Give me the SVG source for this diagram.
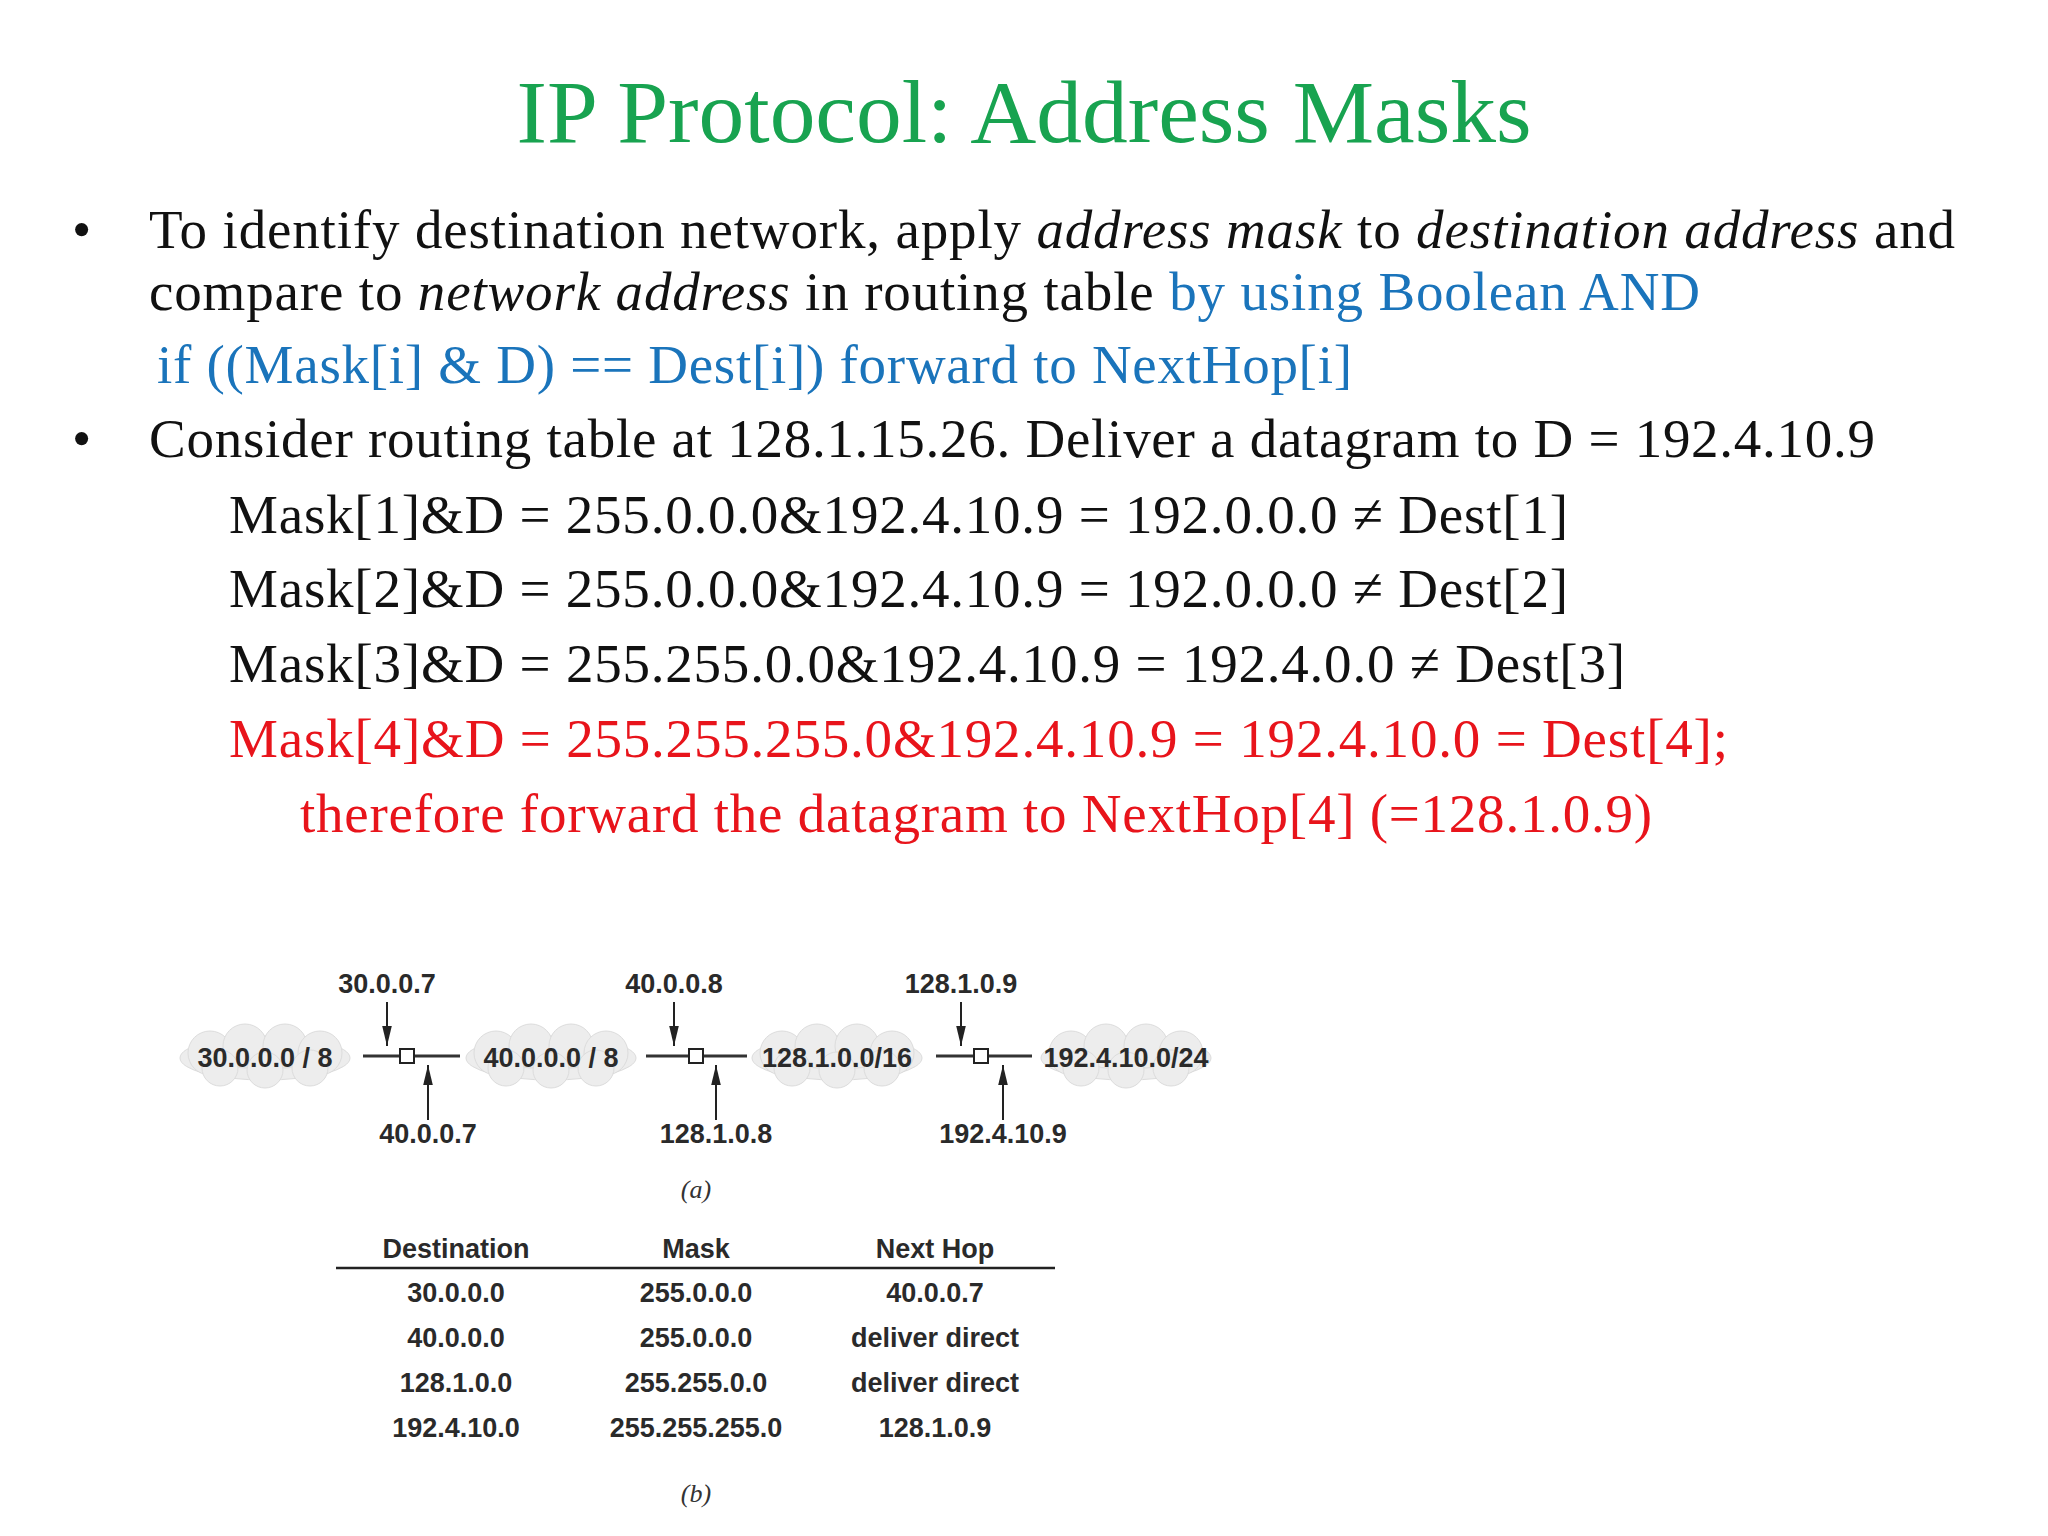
<svg xmlns="http://www.w3.org/2000/svg" width="2048" height="1536" viewBox="0 0 2048 1536">
<style>
.t{font-family:"Liberation Serif","Times New Roman",serif;font-size:55px;fill:#111}
.b{fill:#1a74bb}.r{fill:#e8141b}
.d{font-family:"Liberation Sans",Arial,sans-serif;font-size:27px;font-weight:bold;fill:#2a2a2a;text-anchor:middle}
.ln{stroke:#333;stroke-width:3;fill:none}
.cl{fill:#ededed;stroke:#dcdcdc;stroke-width:1}
</style>
<defs>
<marker id="a" viewBox="0 0 10 10" refX="10" refY="5" markerWidth="20" markerHeight="12" orient="auto" markerUnits="userSpaceOnUse" preserveAspectRatio="none"><path d="M0,1 L10,5 L0,9 z" fill="#222"/></marker>
<g id="cloud"><ellipse cx="0" cy="0" rx="85" ry="22"/><circle cx="-55" cy="-5" r="22"/><circle cx="-20" cy="-12" r="22"/><circle cx="20" cy="-12" r="22"/><circle cx="55" cy="-5" r="22"/><circle cx="-45" cy="10" r="18"/><circle cx="0" cy="12" r="18"/><circle cx="45" cy="10" r="18"/></g>
</defs>
<rect width="2048" height="1536" fill="#fff"/>
<text x="1024" y="142" text-anchor="middle" font-family="Liberation Serif,serif" font-size="88" fill="#18a350" textLength="1015" lengthAdjust="spacingAndGlyphs">IP Protocol: Address Masks</text>
<g id="text">
<text class="t" x="72" y="248">•</text>
<text class="t" x="149" y="248" textLength="1806">To identify destination network, apply <tspan font-style="italic">address mask</tspan> to <tspan font-style="italic">destination address</tspan> and</text>
<text class="t" x="149" y="310" textLength="1551">compare to <tspan font-style="italic">network address</tspan> in routing table <tspan class="b">by using Boolean AND</tspan></text>
<text class="t b" x="157" y="383" textLength="1195">if ((Mask[i] &amp; D) == Dest[i]) forward to NextHop[i]</text>
<text class="t" x="72" y="457">•</text>
<text class="t" x="149" y="457" textLength="1726">Consider routing table at 128.1.15.26. Deliver a datagram to D = 192.4.10.9</text>
<text class="t" x="229" y="533" textLength="1339">Mask[1]&amp;D = 255.0.0.0&amp;192.4.10.9 = 192.0.0.0 ≠ Dest[1]</text>
<text class="t" x="229" y="607" textLength="1339">Mask[2]&amp;D = 255.0.0.0&amp;192.4.10.9 = 192.0.0.0 ≠ Dest[2]</text>
<text class="t" x="229" y="682" textLength="1396">Mask[3]&amp;D = 255.255.0.0&amp;192.4.10.9 = 192.4.0.0 ≠ Dest[3]</text>
<text class="t r" x="229" y="757" textLength="1499">Mask[4]&amp;D = 255.255.255.0&amp;192.4.10.9 = 192.4.10.0 = Dest[4];</text>
<text class="t r" x="300" y="832" textLength="1352">therefore forward the datagram to NextHop[4] (=128.1.0.9)</text>
</g>
<g id="clouds" class="cl">
<use href="#cloud" x="265" y="1058"/><use href="#cloud" x="551" y="1058"/><use href="#cloud" x="837" y="1058"/><use href="#cloud" x="1126" y="1058"/>
</g>
<g id="nets">
<text class="d" x="265" y="1067">30.0.0.0 / 8</text>
<text class="d" x="551" y="1067">40.0.0.0 / 8</text>
<text class="d" x="837" y="1067">128.1.0.0/16</text>
<text class="d" x="1126" y="1067">192.4.10.0/24</text>
</g>
<g id="connectors">
<line class="ln" x1="363" y1="1056" x2="460" y2="1056"/>
<line class="ln" x1="646" y1="1056" x2="747" y2="1056"/>
<line class="ln" x1="936" y1="1056" x2="1032" y2="1056"/>
<g stroke="#222" stroke-width="2" marker-end="url(#a)">
<line x1="387" y1="1002" x2="387" y2="1046"/>
<line x1="674" y1="1002" x2="674" y2="1046"/>
<line x1="961" y1="1002" x2="961" y2="1046"/>
<line x1="428" y1="1120" x2="428" y2="1065"/>
<line x1="716" y1="1120" x2="716" y2="1065"/>
<line x1="1003" y1="1120" x2="1003" y2="1065"/>
</g>
</g>
<g id="routers" fill="#fff" stroke="#222" stroke-width="2">
<rect x="400" y="1049" width="14" height="14"/><rect x="689" y="1049" width="14" height="14"/><rect x="974" y="1049" width="14" height="14"/>
</g>
<g id="addrs">
<text class="d" x="387" y="993">30.0.0.7</text>
<text class="d" x="674" y="993">40.0.0.8</text>
<text class="d" x="961" y="993">128.1.0.9</text>
<text class="d" x="428" y="1143">40.0.0.7</text>
<text class="d" x="716" y="1143">128.1.0.8</text>
<text class="d" x="1003" y="1143">192.4.10.9</text>
<text x="696" y="1198" text-anchor="middle" font-family="Liberation Serif,serif" font-style="italic" font-size="26" fill="#333">(a)</text>
</g>
<g id="table">
<text class="d" x="456" y="1258">Destination</text>
<text class="d" x="696" y="1258">Mask</text>
<text class="d" x="935" y="1258">Next Hop</text>
<line x1="336" y1="1268" x2="1055" y2="1268" stroke="#222" stroke-width="2.5"/>
<text class="d" x="456" y="1302">30.0.0.0</text><text class="d" x="696" y="1302">255.0.0.0</text><text class="d" x="935" y="1302">40.0.0.7</text>
<text class="d" x="456" y="1347">40.0.0.0</text><text class="d" x="696" y="1347">255.0.0.0</text><text class="d" x="935" y="1347">deliver direct</text>
<text class="d" x="456" y="1392">128.1.0.0</text><text class="d" x="696" y="1392">255.255.0.0</text><text class="d" x="935" y="1392">deliver direct</text>
<text class="d" x="456" y="1437">192.4.10.0</text><text class="d" x="696" y="1437">255.255.255.0</text><text class="d" x="935" y="1437">128.1.0.9</text>
<text x="696" y="1502" text-anchor="middle" font-family="Liberation Serif,serif" font-style="italic" font-size="26" fill="#333">(b)</text>
</g>
</svg>
